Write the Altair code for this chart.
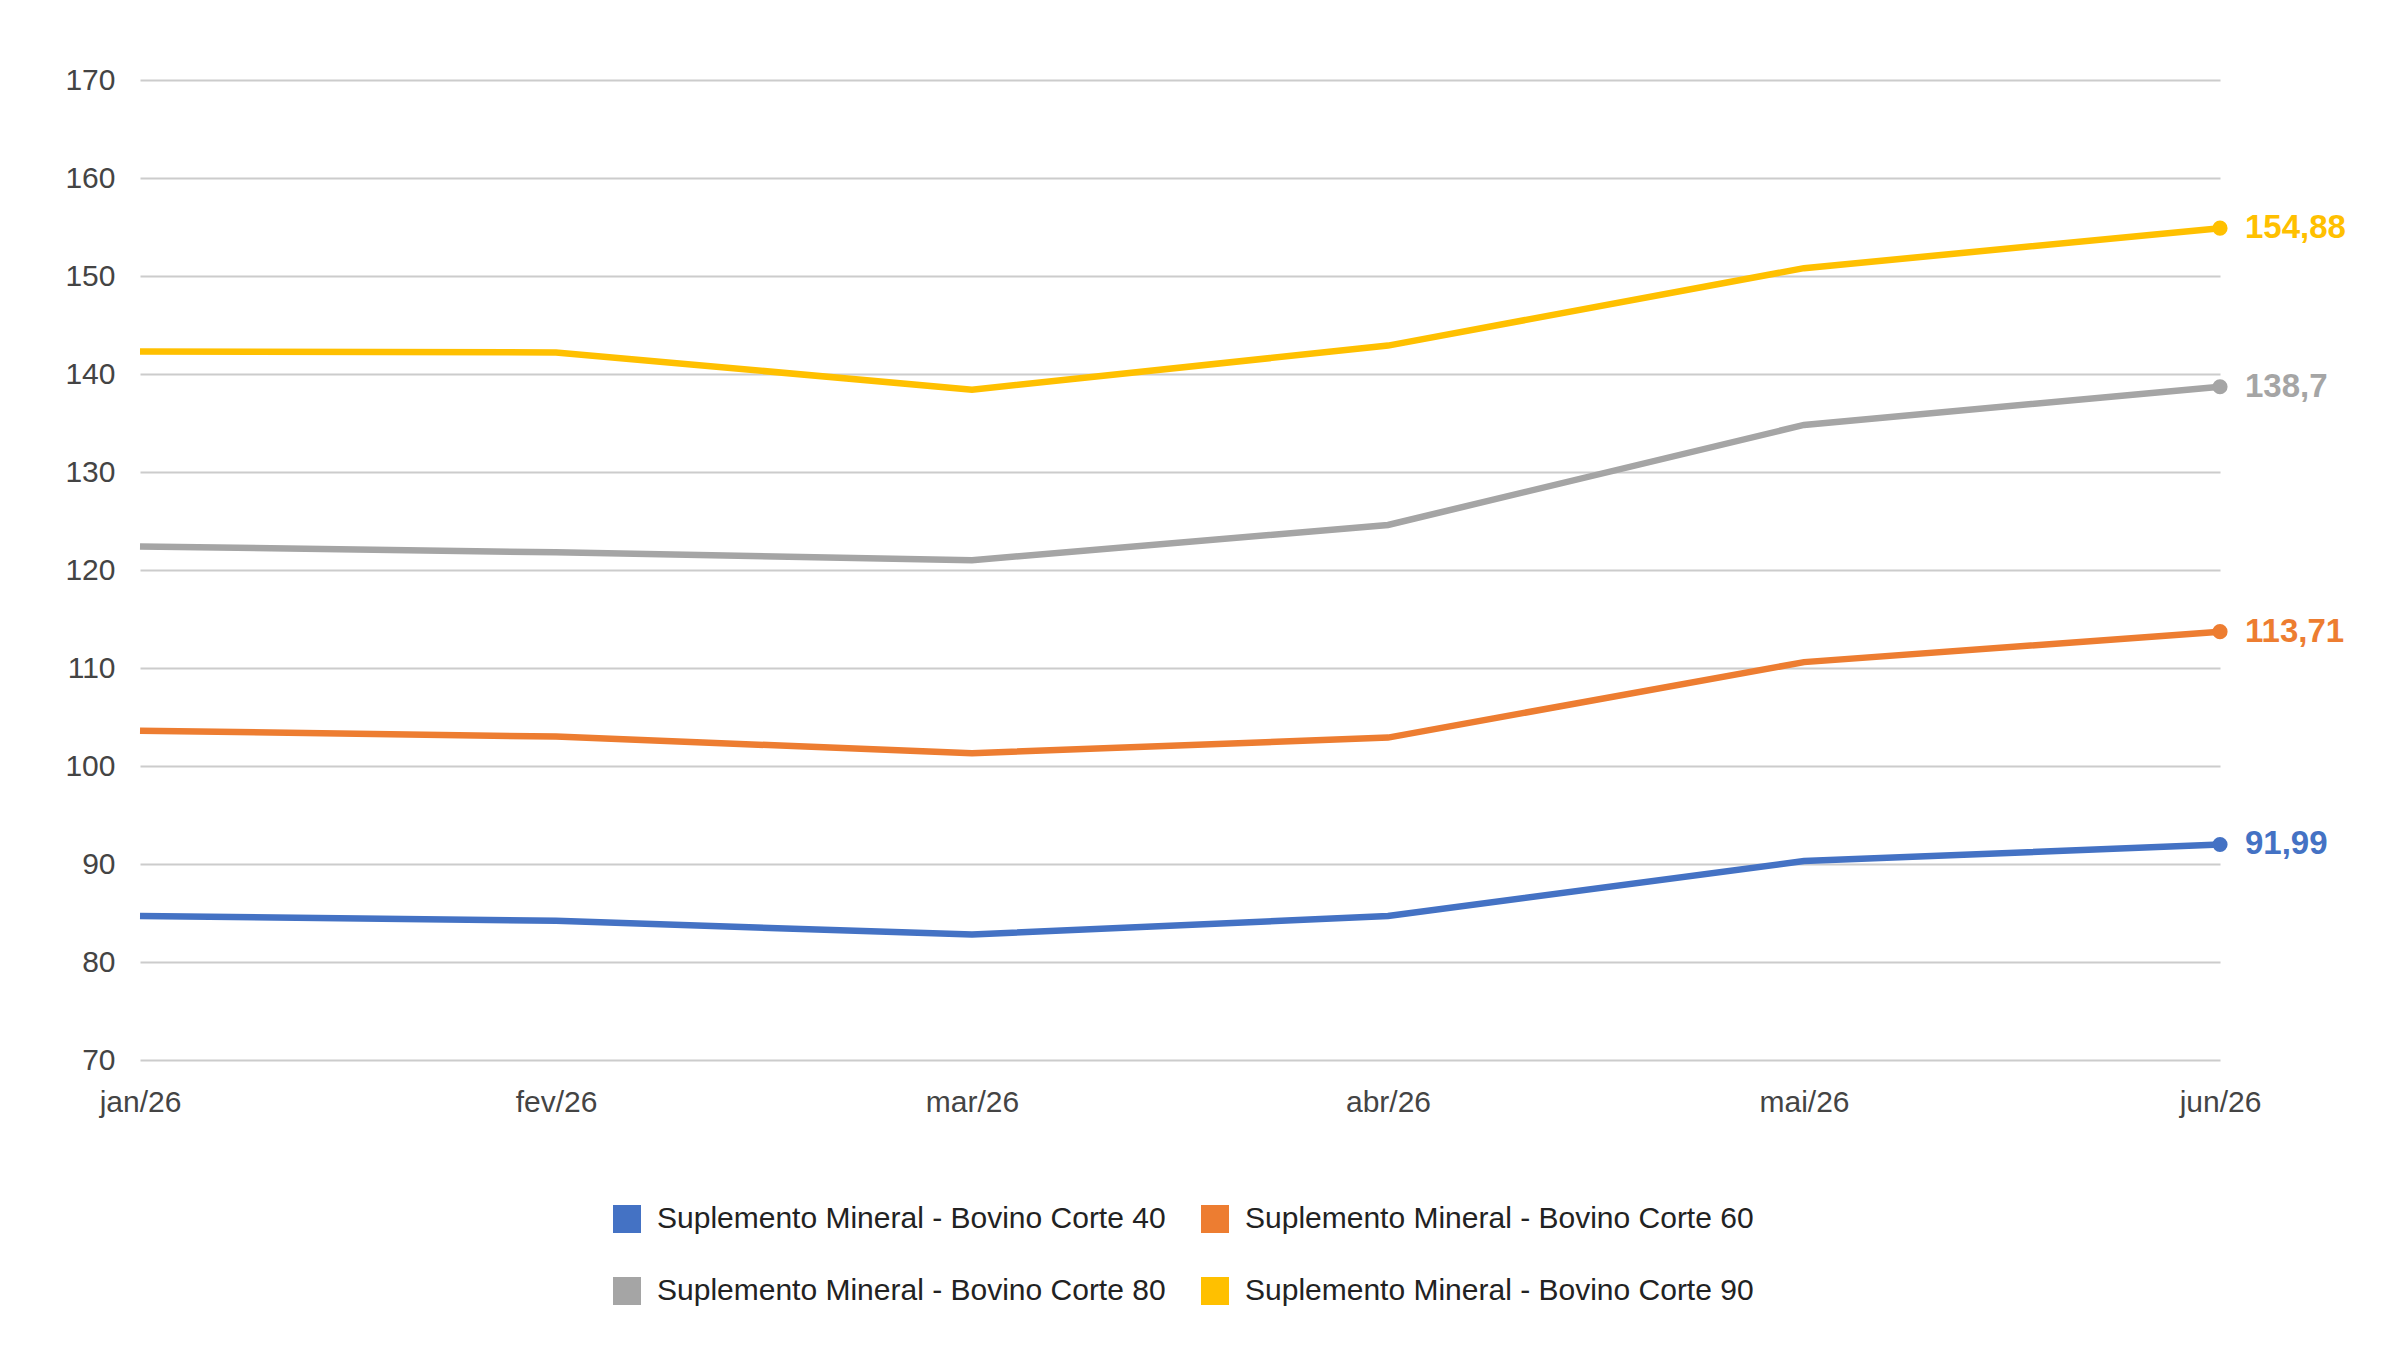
import altair as alt
import pandas as pd

months = ["jan/26", "fev/26", "mar/26", "abr/26", "mai/26", "jun/26"]
series = [
    "Suplemento Mineral - Bovino Corte 40",
    "Suplemento Mineral - Bovino Corte 60",
    "Suplemento Mineral - Bovino Corte 80",
    "Suplemento Mineral - Bovino Corte 90",
]
colors = ["#4472C4", "#ED7D31", "#A5A5A5", "#FFC000"]
corte40 = [84.7, 84.2, 82.8, 84.7, 90.3, 91.99]
corte60 = [103.6, 103.0, 101.3, 102.9, 110.6, 113.71]
corte80 = [122.4, 121.8, 121.0, 124.6, 134.8, 138.7]
corte90 = [142.3, 142.2, 138.4, 142.9, 150.8, 154.88]
y_ticks = [70, 80, 90, 100, 110, 120, 130, 140, 150, 160, 170]

rows = []
for name, vals in zip(series, [corte40, corte60, corte80, corte90]):
    for m, v in zip(months, vals):
        rows.append({"month": m, "series": name, "value": v,
                     "label": f"{v:g}".replace(".", ",")})
df = pd.DataFrame(rows)

FONT = "Liberation Sans"

x_enc = alt.X("month:N", sort=months,
              scale=alt.Scale(type="point", padding=0),
              axis=alt.Axis(title=None, labelAngle=0, domain=False, ticks=False,
                            grid=False, labelFontSize=30, labelColor="#444444",
                            labelFont=FONT, labelPadding=27))
y_enc = alt.Y("value:Q", scale=alt.Scale(domain=[70, 170], zero=False, nice=False),
              axis=alt.Axis(title=None, values=y_ticks, domain=False, ticks=False,
                            gridColor="#cccccc", gridWidth=2, labelFontSize=30,
                            labelColor="#444444", labelFont=FONT, labelPadding=25))
color_scale = alt.Scale(domain=series, range=colors)

base = alt.Chart(df).encode(x=x_enc, y=y_enc)

lines = base.mark_line(strokeWidth=6.5).encode(
    color=alt.Color("series:N", scale=color_scale, legend=None)
)

last = base.transform_filter(alt.datum.month == months[-1])

points = last.mark_point(filled=True, size=230, opacity=1).encode(
    color=alt.Color("series:N", scale=color_scale,
                    legend=alt.Legend(title=None, orient="none", legendX=472, legendY=1124,
                                      direction="horizontal",
                                      columns=2, symbolType="square", symbolSize=784,
                                      symbolStrokeWidth=0, symbolOpacity=1,
                                      labelFontSize=30, labelFont=FONT, labelColor="#222222",
                                      labelOffset=15, columnPadding=34, rowPadding=42,
                                      labelLimit=1000))
)

labels = last.mark_text(align="left", baseline="middle", dx=25, fontSize=33,
                        fontWeight="bold", font=FONT).encode(
    text="label:N",
    color=alt.Color("series:N", scale=color_scale, legend=None)
)

chart = alt.layer(lines, points, labels).resolve_legend(color="independent").properties(
    width=2080, height=980,
    autosize=alt.AutoSizeParams(type="none"),
    padding={"left": 140, "top": 80, "right": 180, "bottom": 300},
    background="white"
).configure_view(stroke=None)

chart.save("out.html", embed_options={"renderer": "svg", "actions": False})
